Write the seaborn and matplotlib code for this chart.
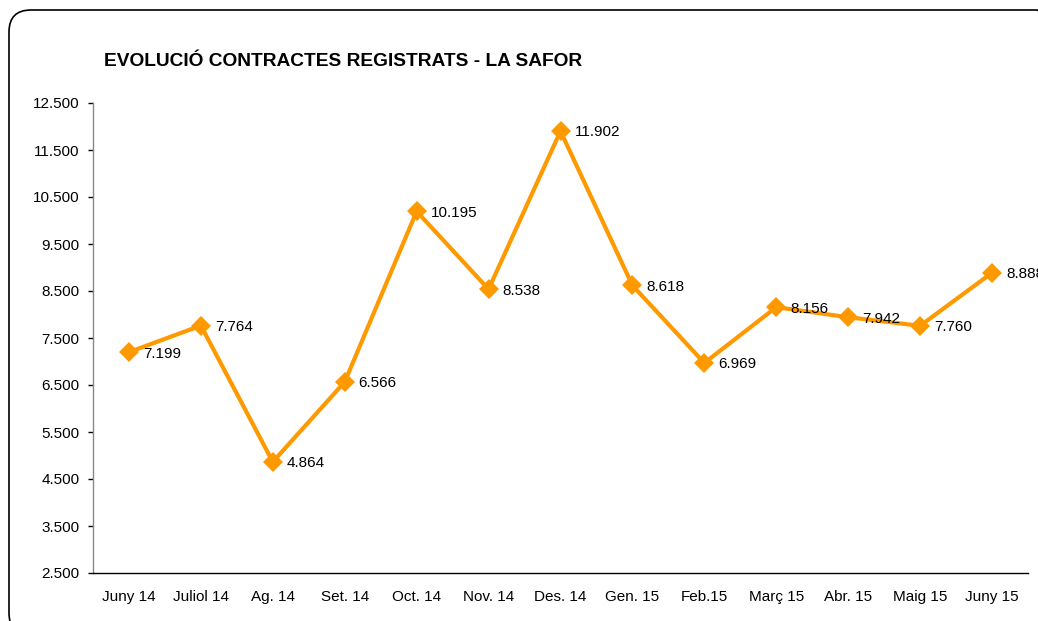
import numpy as np
import matplotlib
matplotlib.use("Agg")
import matplotlib.pyplot as plt
import pandas as pd
import seaborn as sns
from matplotlib.patches import FancyBboxPatch
from matplotlib.transforms import IdentityTransform
from matplotlib.ticker import FixedLocator, FuncFormatter

# data
months = ["Juny 14", "Juliol 14", "Ag. 14", "Set. 14", "Oct. 14", "Nov. 14", "Des. 14",
          "Gen. 15", "Feb.15", "Març 15", "Abr. 15", "Maig 15", "Juny 15"]
contracts = [7199, 7764, 4864, 6566, 10195, 8538, 11902, 8618, 6969, 8156, 7942, 7760, 8888]
y_ticks = [2500, 3500, 4500, 5500, 6500, 7500, 8500, 9500, 10500, 11500, 12500]

df = pd.DataFrame({"mes": months, "contractes": contracts})
df["pos"] = np.arange(len(months))

sns.set_style("white")
plt.rcParams['font.family'] = ['Liberation Sans', 'DejaVu Sans']
plt.rcParams['text.color'] = 'black'
plt.rcParams['xtick.color'] = 'black'
plt.rcParams['ytick.color'] = 'black'

def dotted(v):
    return f"{int(v):,}".replace(",", ".")

W, H = 1038, 621
fig = plt.figure(figsize=(W / 100, H / 100), dpi=100)

# rounded frame round the whole chart, in pixels (runs off right and bottom)
frame = FancyBboxPatch((9, -14), 1050, H - 10 + 14,
                       boxstyle="round,pad=0,rounding_size=22",
                       transform=IdentityTransform(), fill=False,
                       edgecolor="black", linewidth=1.2)
fig.patches.append(frame)

ax = fig.add_axes([93 / W, 1 - 573 / H, (1028 - 93) / W, (573 - 103) / H])

sns.lineplot(data=df, x="pos", y="contractes", ax=ax, color="#FF9900",
             linewidth=3, marker="D", markersize=10, markeredgewidth=0,
             markerfacecolor="#FF9900")

for x, v in zip(df["pos"], df["contractes"]):
    t = ax.annotate(dotted(v), (x, v), xytext=(10, -1), textcoords="offset points",
                    ha="left", va="center", fontsize=11, color="black")
    t.set_clip_on(False)

ax.set_xlim(-0.5, len(months) - 0.5)
ax.set_ylim(2500, 12500)
ax.yaxis.set_major_locator(FixedLocator(y_ticks))
ax.yaxis.set_major_formatter(FuncFormatter(lambda v, p: dotted(v)))

ax.set_xticks(df["pos"])
ax.set_xticklabels(months)
ax.set_xticks(np.arange(len(months) + 1) - 0.5, minor=True)
ax.tick_params(axis="x", which="major", length=0, pad=12, labelsize=11)
ax.tick_params(axis="x", which="minor", length=4, width=1, direction="out", color="black")
ax.tick_params(axis="y", length=3.6, width=1, direction="out", labelsize=11, pad=6,
               color="black", left=True)

ax.set_xlabel("")
ax.set_ylabel("")
for s in ["top", "right"]:
    ax.spines[s].set_visible(False)
ax.spines["left"].set_color("#888888")
ax.spines["bottom"].set_color("black")
ax.spines["left"].set_linewidth(1)
ax.spines["bottom"].set_linewidth(1)
ax.grid(False)

fig.text(104 / W, 1 - 61 / H, "EVOLUCIÓ CONTRACTES REGISTRATS - LA SAFOR",
         fontsize=13.8, fontweight="bold", ha="left", va="center", color="black")

fig.savefig("out.png", dpi=100)
